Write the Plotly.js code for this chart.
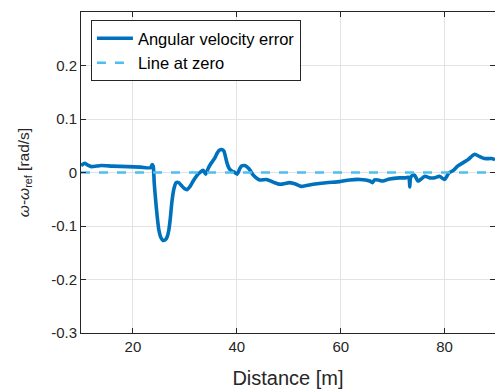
<!DOCTYPE html>
<html>
<head>
<meta charset="utf-8">
<script src="https://cdn.plot.ly/plotly-3.0.1.min.js"></script>
<style>html,body{margin:0;padding:0;background:#fff;overflow:hidden}</style>
</head>
<body>
<div id="chart" style="width:495px;height:391px"></div>
<script>
const distance = [10.0,10.7,11.3,12.0,13.0,13.9,16.0,19.0,21.5,23.4,23.7,23.9,24.1,24.4,24.7,25.0,25.4,25.8,26.2,26.6,26.9,27.2,27.5,27.9,28.3,28.8,29.3,29.9,30.4,31.0,31.6,32.3,32.9,33.5,34.0,34.5,34.9,35.4,35.8,36.2,36.7,37.1,37.5,37.8,38.1,38.5,39.0,39.6,40.1,40.5,40.9,41.5,42.0,42.5,43.0,43.6,44.4,45.7,47.0,48.3,50.2,51.4,52.4,54.7,57.2,59.8,61.7,63.7,65.6,66.1,66.5,67.2,68.1,69.4,71.3,72.5,73.1,73.3,73.4,73.6,74.2,74.9,76.2,77.1,78.1,79.0,80.0,80.8,81.7,82.5,83.5,84.5,85.3,85.8,86.7,87.7,89.0,89.7];
const angErr = [0.013,0.017,0.014,0.011,0.012,0.013,0.012,0.011,0.010,0.009,0.015,0.012,-0.020,-0.055,-0.085,-0.108,-0.122,-0.127,-0.126,-0.120,-0.108,-0.085,-0.055,-0.030,-0.019,-0.019,-0.024,-0.030,-0.032,-0.026,-0.016,-0.006,0.000,0.004,-0.003,0.008,0.015,0.022,0.028,0.036,0.042,0.043,0.040,0.030,0.018,0.008,0.003,0.000,-0.003,0.006,0.012,0.013,0.010,0.005,-0.003,-0.009,-0.014,-0.013,-0.018,-0.022,-0.019,-0.022,-0.026,-0.022,-0.019,-0.017,-0.014,-0.013,-0.016,-0.019,-0.014,-0.014,-0.016,-0.012,-0.010,-0.010,-0.009,-0.027,-0.012,-0.007,-0.005,-0.016,-0.007,-0.010,-0.010,-0.007,-0.013,-0.001,0.004,0.012,0.018,0.024,0.031,0.034,0.030,0.026,0.026,0.024];
const zeroX = [10, 90];
const zeroY = [0, 0];
const xTickVals = [20, 40, 60, 80];
const xTickText = ["20", "40", "60", "80"];
const yTickVals = [-0.3, -0.2, -0.1, 0, 0.1, 0.2];
const yTickText = ["-0.3", "-0.2", "-0.1", "0", "0.1", "0.2"];

const font = "Liberation Sans, Arial, Helvetica, sans-serif";
const traces = [
  {x: distance, y: angErr, type: "scatter", mode: "lines", name: "Angular velocity error",
   line: {color: "#0072BD", width: 3.6, shape: "spline", smoothing: 0.6}},
  {x: zeroX, y: zeroY, type: "scatter", mode: "lines", name: "Line at zero",
   line: {color: "#4DBEEE", width: 2.4, dash: "9px,9px"}}
];
const axisCommon = {
  showline: true, linecolor: "#262626", linewidth: 1, mirror: "ticks",
  ticks: "inside", ticklen: 5, tickcolor: "#262626", tickwidth: 1,
  showgrid: true, gridcolor: "#e3e3e3", gridwidth: 1, zeroline: false,
  tickfont: {family: font, size: 15, color: "#262626"}, tickmode: "array"
};
const layout = {
  width: 495, height: 391,
  margin: {l: 81, r: 0, t: 12, b: 58},
  paper_bgcolor: "#fff", plot_bgcolor: "#fff",
  showlegend: true,
  xaxis: Object.assign({}, axisCommon, {range: [10, 89.7], tickvals: xTickVals, ticktext: xTickText,
    title: {text: "Distance [m]", font: {family: font, size: 20, color: "#262626"}, standoff: 16}}),
  yaxis: Object.assign({}, axisCommon, {range: [-0.3, 0.3], tickvals: yTickVals, ticktext: yTickText,
    title: {text: "<i>ω</i>-<i>ω</i><sub>ref</sub> [rad/s]", font: {family: font, size: 15.5, color: "#262626"}, standoff: 17}}),
  legend: {x: 0.024, y: 0.975, xanchor: "left", yanchor: "top",
    bgcolor: "#fff", bordercolor: "#262626", borderwidth: 1,
    font: {family: font, size: 16.5, color: "#000"},
    tracegroupgap: 0, itemwidth: 36}
};
Plotly.newPlot("chart", traces, layout, {displayModeBar: false, staticPlot: true});
</script>
</body>
</html>
